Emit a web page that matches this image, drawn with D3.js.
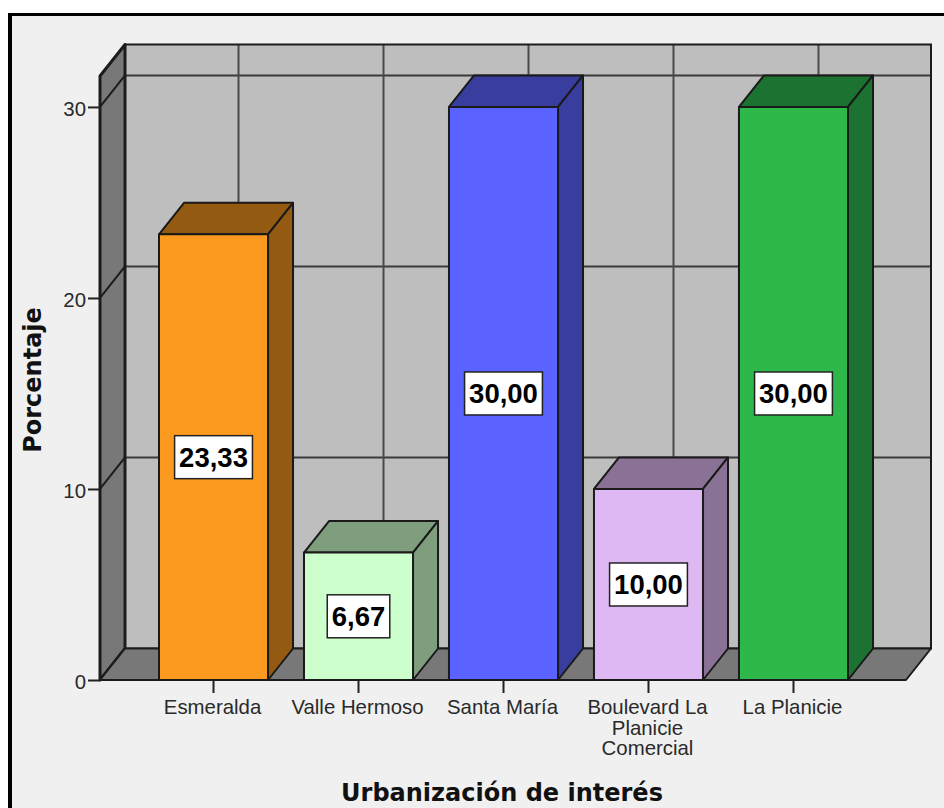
<!DOCTYPE html>
<html>
<head>
<meta charset="utf-8">
<script src="https://cdn.jsdelivr.net/npm/d3@7/dist/d3.min.js"></script>
<style>
  html, body { margin: 0; padding: 0; background: #fff; }
  svg { display: block; }
  .tick-text { font-family: "Liberation Sans", Arial, sans-serif; font-size: 20.4px; fill: #2a2a2a; }
  .axis-title { font-family: "DejaVu Sans", Verdana, sans-serif; font-weight: bold; fill: #111; }
  .value { font-family: "Liberation Sans", Arial, sans-serif; font-size: 27.5px; font-weight: bold; fill: #000; }
</style>
</head>
<body>
<svg id="chart" width="944" height="808"></svg>
<script>
// Survey results: share of respondents by neighbourhood of interest
const categories = ["Esmeralda", "Valle Hermoso", "Santa María", "Boulevard La Planicie Comercial", "La Planicie"];
const categoryLines = [["Esmeralda"], ["Valle Hermoso"], ["Santa María"], ["Boulevard La", "Planicie", "Comercial"], ["La Planicie"]];
const percentages = [23.33, 6.67, 30, 10, 30];
const yTicks = [0, 10, 20, 30];
const frontColors = ["#fb9a1e", "#ccffcc", "#5a62ff", "#deb8f2", "#2eb84c"];
const sideColors = ["#955a12", "#7e9e7e", "#383d9e", "#8a7296", "#1c7230"];

const yTitle = "Porcentaje";
const xTitle = "Urbanización de interés";

const svg = d3.select("#chart");

// Oblique projection of the box: depth is shifted right and up
const depthX = 25, depthY = 31.5;
const floorLeft = 100, floorRight = 906;

const y = d3.scaleLinear().domain([0, 31.62]).range([680, 76]);
const x = d3.scaleBand().domain(categories).range([159, 848]).paddingInner(0.248);

const poly = pts => d3.line()(pts) + "Z";
const ink = "#1c1c1c";

// Chart background and the frame on its left and top edges
svg.append("rect").attr("x", 10).attr("y", 15).attr("width", 934).attr("height", 793).attr("fill", "#f0f0f0");
svg.append("rect").attr("x", 8).attr("y", 13).attr("width", 936).attr("height", 3).attr("fill", "#000");
svg.append("rect").attr("x", 8).attr("y", 13).attr("width", 4).attr("height", 795).attr("fill", "#000");

const yMax = y.domain()[1], y0 = y(0), yTop = y(yMax);

// Back wall
svg.append("rect")
  .attr("x", floorLeft + depthX).attr("y", yTop - depthY)
  .attr("width", floorRight - floorLeft).attr("height", y0 - yTop)
  .attr("fill", "#bebebe");

// Horizontal gridlines on the back wall
svg.append("g").selectAll("line").data(yTicks.slice(1)).join("line")
  .attr("x1", floorLeft + depthX).attr("x2", floorRight + depthX)
  .attr("y1", d => y(d) - depthY).attr("y2", d => y(d) - depthY)
  .attr("stroke", "#3a3a3a").attr("stroke-width", 2);

// Vertical gridlines on the back wall, one behind each bar
svg.append("g").selectAll("line").data(categories).join("line")
  .attr("x1", d => x(d) + x.bandwidth() / 2 + depthX)
  .attr("x2", d => x(d) + x.bandwidth() / 2 + depthX)
  .attr("y1", yTop - depthY).attr("y2", y0 - depthY)
  .attr("stroke", "#4a4a4a").attr("stroke-width", 2);

// Back wall outline
svg.append("rect")
  .attr("x", floorLeft + depthX).attr("y", yTop - depthY)
  .attr("width", floorRight - floorLeft).attr("height", y0 - yTop)
  .attr("fill", "none").attr("stroke", ink).attr("stroke-width", 2);

// Left wall with its slanted gridlines
svg.append("path")
  .attr("d", poly([[floorLeft, yTop], [floorLeft + depthX, yTop - depthY], [floorLeft + depthX, y0 - depthY], [floorLeft, y0]]))
  .attr("fill", "#787878").attr("stroke", ink).attr("stroke-width", 3).attr("stroke-linejoin", "round");
svg.append("g").selectAll("line").data(yTicks).join("line")
  .attr("x1", floorLeft).attr("x2", floorLeft + depthX)
  .attr("y1", d => y(d)).attr("y2", d => y(d) - depthY)
  .attr("stroke", ink).attr("stroke-width", 2);

// Floor
svg.append("path")
  .attr("d", poly([[floorLeft, y0], [floorLeft + depthX, y0 - depthY], [floorRight + depthX, y0 - depthY], [floorRight, y0]]))
  .attr("fill", "#787878").attr("stroke", ink).attr("stroke-width", 2).attr("stroke-linejoin", "round");

// Bars: top, side and front faces
const bars = svg.append("g").selectAll("g").data(percentages).join("g");
const barEdge = { stroke: "#1a1a1a", width: 2 };

bars.append("path")
  .attr("d", (d, i) => {
    const l = x(categories[i]), r = l + x.bandwidth(), t = y(d);
    return poly([[l, t], [l + depthX, t - depthY], [r + depthX, t - depthY], [r, t]]);
  })
  .attr("fill", (d, i) => sideColors[i]);

bars.append("path")
  .attr("d", (d, i) => {
    const r = x(categories[i]) + x.bandwidth(), t = y(d);
    return poly([[r, t], [r + depthX, t - depthY], [r + depthX, y0 - depthY], [r, y0]]);
  })
  .attr("fill", (d, i) => sideColors[i]);

bars.append("rect")
  .attr("x", (d, i) => x(categories[i]))
  .attr("y", d => y(d))
  .attr("width", x.bandwidth())
  .attr("height", d => y0 - y(d))
  .attr("fill", (d, i) => frontColors[i]);

bars.selectAll("path, rect")
  .attr("stroke", barEdge.stroke).attr("stroke-width", barEdge.width).attr("stroke-linejoin", "round");

// Axes
const yAxis = svg.append("g")
  .attr("transform", `translate(${floorLeft},0)`)
  .call(d3.axisLeft(y).tickValues(yTicks).tickSize(12).tickPadding(2));
yAxis.select(".domain").remove();
yAxis.selectAll("line").attr("stroke", "#222").attr("stroke-width", 2);
yAxis.selectAll("text").attr("class", "tick-text").attr("dy", "0.42em");

const xAxis = svg.append("g")
  .attr("transform", `translate(0,${y0})`)
  .call(d3.axisBottom(x).tickSize(13).tickFormat(""));
xAxis.select(".domain").remove();
xAxis.selectAll("line").attr("stroke", "#222").attr("stroke-width", 2);

// Category labels, some of them on several lines
const labels = xAxis.selectAll(".tick").append("text")
  .attr("class", "tick-text")
  .attr("text-anchor", "middle");
labels.each(function (d) {
  const lines = categoryLines[categories.indexOf(d)];
  d3.select(this).selectAll("tspan").data(lines).join("tspan")
    .attr("x", -1)
    .attr("y", (l, i) => 34 + i * 20.5)
    .text(l => l);
});

// Value labels centred on each bar's front face
const comma = d3.formatLocale({ decimal: ",", thousands: ".", grouping: [3], currency: ["", ""] }).format(".2f");
const valueGroups = svg.append("g").selectAll("g").data(percentages).join("g")
  .attr("transform", (d, i) => `translate(${x(categories[i]) + x.bandwidth() / 2},${y(d / 2)})`);
const boxes = valueGroups.append("rect");
const valueText = valueGroups.append("text")
  .attr("class", "value")
  .attr("text-anchor", "middle")
  .attr("y", 10)
  .text(d => comma(d));
boxes.each(function (d, i) {
  const w = valueText.nodes()[i].getComputedTextLength() + 9;
  d3.select(this)
    .attr("x", -w / 2).attr("y", -21.5).attr("width", w).attr("height", 43)
    .attr("fill", "#fff").attr("stroke", "#222").attr("stroke-width", 1.5);
});

// Axis titles
svg.append("text")
  .attr("class", "axis-title")
  .attr("font-size", 24)
  .attr("text-anchor", "middle")
  .attr("transform", "translate(41,380) rotate(-90)")
  .text(yTitle);

svg.append("text")
  .attr("class", "axis-title")
  .attr("font-size", 24)
  .attr("text-anchor", "middle")
  .attr("x", 502).attr("y", 801)
  .text(xTitle);
</script>
</body>
</html>
